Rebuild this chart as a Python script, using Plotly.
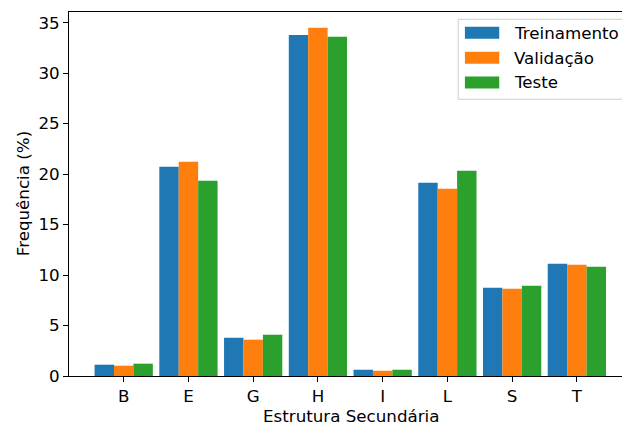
import plotly.graph_objects as go

categories = ["B", "E", "G", "H", "I", "L", "S", "T"]
treinamento = [1.12, 20.73, 3.79, 33.79, 0.62, 19.14, 8.74, 11.12]
validacao = [1.02, 21.22, 3.60, 34.49, 0.52, 18.55, 8.64, 11.02]
teste = [1.22, 19.34, 4.09, 33.60, 0.62, 20.33, 8.94, 10.82]
series_names = ["Treinamento", "Validação", "Teste"]
series_colors = ["#1f77b4", "#ff7f0e", "#2ca02c"]
y_ticks = [0, 5, 10, 15, 20, 25, 30, 35]

W, H = 622, 426
L, R, T, B = 69.3, 0, 12, 49.7
PW, PH = W - L - R, H - T - B
FONT = "DejaVu Sans"
FS = 16.7

def px(x):
    return (x - L) / PW

def py(y):
    return 1 - (y - T) / PH

fig = go.Figure()
for name, vals, col in zip(series_names, [treinamento, validacao, teste], series_colors):
    fig.add_trace(go.Bar(x=categories, y=vals, name=name, marker=dict(color=col, line=dict(width=0)),
                         showlegend=False))

fig.update_layout(
    width=W, height=H,
    margin=dict(l=L, r=R, t=T, b=B, pad=0),
    plot_bgcolor="white", paper_bgcolor="white",
    barmode="group", bargap=0.1, bargroupgap=0,
    font=dict(family=FONT, size=FS, color="black"),
    xaxis=dict(
        type="category", range=[-0.845, 7.697],
        showline=True, linecolor="black", linewidth=1.1, mirror=True,
        ticks="outside", ticklen=5, tickwidth=1.1, tickcolor="black",
        showgrid=False, zeroline=False,
        tickfont=dict(family=FONT, size=FS, color="black"),
    ),
    yaxis=dict(
        range=[0, 36.06], tickvals=y_ticks,
        showline=True, linecolor="black", linewidth=1.1, mirror=False,
        ticks="outside", ticklen=5, tickwidth=1.1, tickcolor="black",
        showgrid=False, zeroline=False,
        tickfont=dict(family=FONT, size=FS, color="black"),
    ),
)

# axis titles
fig.add_annotation(text="Estrutura Secundária", xref="paper", yref="paper",
                   x=px(351), y=py(416.5), showarrow=False, borderpad=0,
                   font=dict(family=FONT, size=FS, color="black"),
                   xanchor="center", yanchor="middle")
fig.add_annotation(text="Frequência (%)", xref="paper", yref="paper",
                   x=px(22.7), y=py(194), showarrow=False, textangle=-90,
                   font=dict(family=FONT, size=FS, color="black"),
                   xanchor="center", yanchor="middle")

# legend box (matplotlib style)
fig.add_shape(type="rect", xref="paper", yref="paper",
              x0=px(458.3), x1=px(626), y0=py(99.3), y1=py(19.3),
              line=dict(color="#cccccc", width=1), fillcolor="rgba(255,255,255,0.8)", layer="above")
centers = [32.7, 57.7, 82.5]
for name, col, cy in zip(series_names, series_colors, centers):
    fig.add_shape(type="rect", xref="paper", yref="paper",
                  x0=px(465), x1=px(499.3), y0=py(cy + 6), y1=py(cy - 6),
                  line=dict(width=0), fillcolor=col, layer="above")
    fig.add_annotation(text=name, xref="paper", yref="paper", x=px(513.3), y=py(cy),
                       showarrow=False, xanchor="left", yanchor="middle", borderpad=0,
                       font=dict(family=FONT, size=FS, color="black"))

fig.write_html("out.html")
